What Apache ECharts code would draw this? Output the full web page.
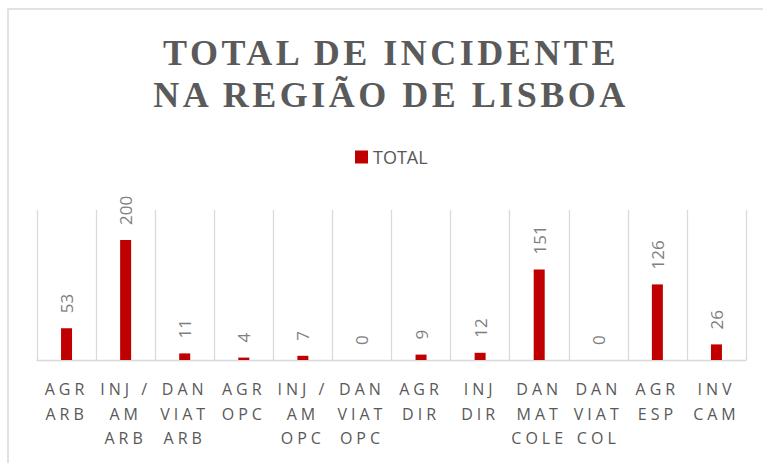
<!DOCTYPE html>
<html>
<head>
<meta charset="utf-8">
<script src="https://cdn.jsdelivr.net/npm/echarts@6/dist/echarts.min.js"></script>
<style>
  html, body { margin: 0; padding: 0; background: #ffffff; }
  #chart { width: 763px; height: 463px; }
  /* character spacing like the original (title and category labels) */
  #chart text[fill="#5a5a5a"] { letter-spacing: 3.5px; }
  #chart text[fill="#595959"] { letter-spacing: 4px; }
</style>
</head>
<body>
<div id="chart"></div>
<script>
// ---- data ----
const titleText = 'TOTAL DE INCIDENTE\nNA REGIÃO DE LISBOA';
const seriesName = 'TOTAL';
const categories = ['AGR ARB', 'INJ / AM ARB', 'DAN VIAT ARB', 'AGR OPC', 'INJ / AM OPC', 'DAN VIAT OPC',
                    'AGR DIR', 'INJ DIR', 'DAN MAT COLE', 'DAN VIAT COL', 'AGR ESP', 'INV CAM'];
const tickLabels = ['AGR\nARB', 'INJ /\nAM\nARB', 'DAN\nVIAT\nARB', 'AGR\nOPC', 'INJ /\nAM\nOPC', 'DAN\nVIAT\nOPC',
                    'AGR\nDIR', 'INJ\nDIR', 'DAN\nMAT\nCOLE', 'DAN\nVIAT\nCOL', 'AGR\nESP', 'INV\nCAM'];
const totals = [53, 200, 11, 4, 7, 0, 9, 12, 151, 0, 126, 26];
const valueMax = 250;

const chart = echarts.init(document.getElementById('chart'), null, { renderer: 'svg' });
chart.setOption({
  backgroundColor: '#ffffff',
  animation: false,
  title: {
    text: titleText,
    left: 391,
    top: 32,
    padding: 0,
    textAlign: 'center',
    textStyle: {
      fontFamily: '"Liberation Serif", "DejaVu Serif", serif',
      fontWeight: 'bold',
      fontSize: 36,
      lineHeight: 42,
      color: '#5a5a5a'
    }
  },
  legend: {
    data: [seriesName],
    left: 355,
    top: 148,
    padding: 0,
    icon: 'rect',
    itemWidth: 13,
    itemHeight: 13,
    textStyle: { fontFamily: '"Open Sans", sans-serif', fontSize: 18, color: '#585858' }
  },
  grid: { left: 37, right: 17, top: 210, bottom: 103, containLabel: false },
  xAxis: {
    type: 'category',
    data: categories,
    boundaryGap: true,
    axisLine: { show: true, lineStyle: { color: '#d9d9d9', width: 1.3 } },
    axisTick: { show: false },
    splitLine: { show: true, lineStyle: { color: '#d9d9d9', width: 1.3 } },
    axisLabel: {
      interval: 0,
      margin: 17,
      fontFamily: '"Open Sans", sans-serif',
      fontSize: 16,
      lineHeight: 24.5,
      color: '#595959',
      formatter: function (v, i) { return tickLabels[i]; }
    }
  },
  yAxis: {
    type: 'value',
    min: 0,
    max: valueMax,
    show: false,
    splitLine: { show: false }
  },
  series: [{
    name: seriesName,
    type: 'bar',
    data: totals,
    barWidth: 11,
    itemStyle: { color: '#c00000' },
    label: {
      show: true,
      position: 'top',
      rotate: 90,
      align: 'left',
      verticalAlign: 'middle',
      distance: 15,
      fontFamily: '"Open Sans", sans-serif',
      fontSize: 17,
      color: '#7f7f7f'
    }
  }],
  graphic: [{
    type: 'rect',
    silent: true,
    z: -10,
    shape: { x: 8, y: 9, width: 800, height: 500 },
    style: { fill: 'none', stroke: '#d9d9d9', lineWidth: 1.5 }
  }]
});
</script>
</body>
</html>
